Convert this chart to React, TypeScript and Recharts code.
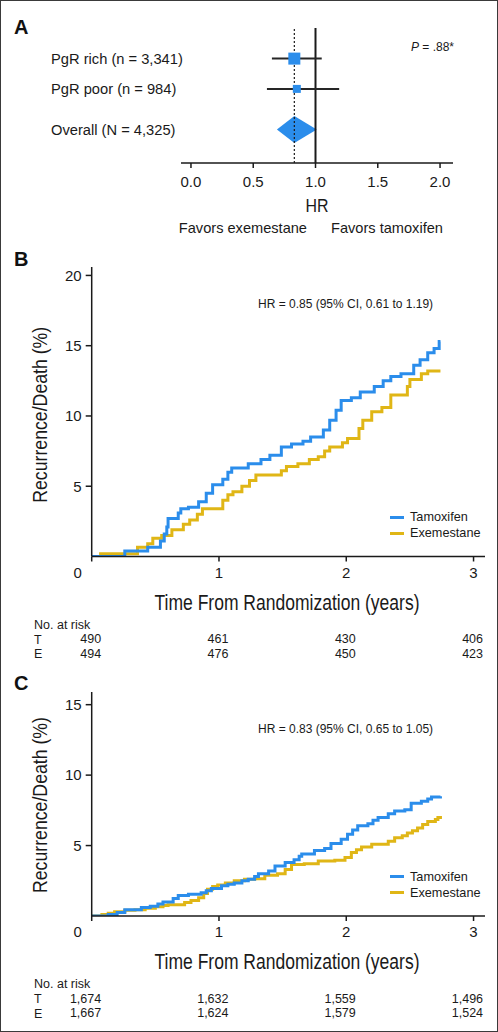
import React from 'react';
import {
  ScatterChart, Scatter, LineChart, Line, XAxis, YAxis, ReferenceLine, ReferenceArea, Legend,
} from 'recharts';

const FONT = '"Liberation Sans", Arial, Helvetica, sans-serif';
const INK = '#1a1a1a';
const BLUE = '#2B8DEB';
const GOLD = '#E0B616';

// panel A - forest plot
const subgroupLabels = ['PgR rich (n = 3,341)', 'PgR poor (n = 984)', 'Overall (N = 4,325)'];
const subgroupN = [3341, 984, 4325];
const hrEstimate = [0.83, 0.85, 0.83];
const ciLower = [0.65, 0.61, 0.69];
const ciUpper = [1.05, 1.19, 1.01];
const hrTicks = [0, 0.5, 1, 1.5, 2];
// row slots on the (hidden) y scale
const rowPos = [3.48, 2.47, 1.12];

// panel B - [years, %]
const bTamoxifen: [number, number][] = [
  [0, 0], [0.26, 0.4], [0.44, 0.65], [0.54, 1.1], [0.57, 1.6], [0.59, 2.1], [0.6, 2.7], [0.68, 3.1],
  [0.7, 3.4], [0.76, 3.5], [0.84, 3.9], [0.9, 4.5], [0.95, 5.1], [1.03, 5.5], [1.07, 6.0], [1.1, 6.3],
  [1.23, 6.6], [1.33, 6.9], [1.4, 7.2], [1.49, 7.8], [1.57, 8.0], [1.66, 8.2], [1.72, 8.5], [1.82, 9.0],
  [1.87, 9.7], [1.92, 10.4], [1.96, 11.1], [2.04, 11.3], [2.11, 11.7], [2.22, 12.1], [2.29, 12.5],
  [2.35, 12.8], [2.43, 13.0], [2.53, 13.6], [2.58, 14.0], [2.64, 14.5], [2.69, 14.8], [2.73, 15.3], [2.74, 15.3],
];
const bExemestane: [number, number][] = [
  [0, 0], [0.07, 0.2], [0.36, 0.65], [0.44, 0.9], [0.48, 1.3], [0.55, 1.5], [0.63, 1.9], [0.72, 2.3],
  [0.77, 2.6], [0.83, 3.0], [0.87, 3.4], [1.03, 4.0], [1.07, 4.4], [1.11, 4.6], [1.18, 5.0], [1.24, 5.4],
  [1.29, 5.8], [1.49, 6.1], [1.53, 6.4], [1.62, 6.6], [1.71, 6.9], [1.78, 7.1], [1.83, 7.5], [1.87, 7.8],
  [1.97, 8.1], [2.01, 8.4], [2.1, 9.1], [2.13, 9.7], [2.2, 10.3], [2.28, 10.6], [2.35, 11.5], [2.48, 12.1],
  [2.5, 12.6], [2.59, 13.0], [2.64, 13.2], [2.74, 13.2],
];
const bRiskT = [490, 461, 430, 406];
const bRiskE = [494, 476, 450, 423];

// panel C
const cTamoxifen: [number, number][] = [
  [0, 0], [0.13, 0.1], [0.2, 0.25], [0.26, 0.45], [0.39, 0.6], [0.46, 0.7], [0.52, 0.85], [0.56, 1.0],
  [0.64, 1.25], [0.68, 1.45], [0.76, 1.55], [0.86, 1.65], [0.9, 1.8], [0.94, 1.95], [1.02, 2.15],
  [1.07, 2.25], [1.12, 2.35], [1.18, 2.5], [1.23, 2.6], [1.28, 2.8], [1.31, 3.0], [1.39, 3.2], [1.44, 3.55],
  [1.52, 3.8], [1.59, 4.0], [1.63, 4.25], [1.65, 4.4], [1.75, 4.65], [1.83, 4.8], [1.88, 5.15], [1.96, 5.45],
  [2.01, 5.8], [2.05, 6.1], [2.09, 6.4], [2.17, 6.55], [2.21, 6.8], [2.25, 7.0], [2.33, 7.25], [2.38, 7.45],
  [2.46, 7.55], [2.51, 8.0], [2.59, 8.15], [2.64, 8.3], [2.67, 8.45], [2.74, 8.5],
];
const cExemestane: [number, number][] = [
  [0, 0], [0.08, 0.1], [0.13, 0.2], [0.18, 0.3], [0.26, 0.4], [0.34, 0.45], [0.42, 0.55], [0.5, 0.65],
  [0.56, 0.75], [0.6, 0.8], [0.73, 0.95], [0.78, 1.1], [0.84, 1.3], [0.88, 1.6], [0.91, 1.9], [0.95, 2.1],
  [0.99, 2.2], [1.05, 2.35], [1.12, 2.5], [1.2, 2.6], [1.28, 2.65], [1.36, 2.9], [1.46, 3.0], [1.52, 3.3],
  [1.57, 3.65], [1.67, 3.7], [1.78, 3.9], [1.91, 3.95], [1.99, 4.15], [2.04, 4.5], [2.08, 4.7], [2.12, 4.9],
  [2.2, 5.1], [2.33, 5.3], [2.38, 5.55], [2.44, 5.7], [2.48, 5.9], [2.52, 6.05], [2.56, 6.25], [2.6, 6.5],
  [2.64, 6.7], [2.7, 6.85], [2.72, 7.0], [2.74, 7.1],
];
const cRiskT = [1674, 1632, 1559, 1496];
const cRiskE = [1667, 1624, 1579, 1524];

const timeTicks = [0, 1, 2, 3];

const fmt = (n: number) => n.toLocaleString('en-US');

const ForestPanel = () => {
  const ov = 2;
  const maxN = Math.max(subgroupN[0], subgroupN[1]);
  const points = [0, 1].map((i) => ({ hr: hrEstimate[i], row: rowPos[i], n: subgroupN[i] }));

  return (
    <div style={{ position: 'absolute', left: 0, top: 0 }}>
      <ScatterChart width={498} height={250} margin={{ top: 27, right: 46, bottom: 8, left: 50 }}>
        <XAxis
          type="number"
          dataKey="hr"
          domain={[-0.08, 2.104]}
          ticks={hrTicks}
          interval={0}
          allowDataOverflow
          tickFormatter={(v: number) => v.toFixed(1)}
          height={80}
          tickSize={5}
          tickMargin={8}
          axisLine={{ stroke: INK, strokeWidth: 1.5 }}
          tickLine={{ stroke: INK, strokeWidth: 1.5 }}
          tick={{ fontSize: 15, fill: INK, fontFamily: FONT }}
          label={(p: any) => {
            const vb = p.viewBox;
            const cx = vb.x + vb.width / 2;
            return (
              <g fontFamily={FONT} fill={INK}>
                <text x={cx} y={vb.y + 49} textAnchor="middle" fontSize={18} textLength={23} lengthAdjust="spacingAndGlyphs">HR</text>
                <text x={cx - 10} y={vb.y + 70} textAnchor="end" fontSize={14.6}>Favors exemestane</text>
                <text x={cx + 14} y={vb.y + 70} textAnchor="start" fontSize={14.6}>Favors tamoxifen</text>
              </g>
            );
          }}
        />
        <YAxis
          type="number"
          dataKey="row"
          domain={[0, 4.5]}
          ticks={rowPos}
          interval={0}
          width={130}
          axisLine={false}
          tickLine={false}
          tick={(p: any) => (
            <text x={50} y={p.y + 5.5} fontSize={14.7} fill={INK} fontFamily={FONT}>
              {subgroupLabels[rowPos.indexOf(p.payload.value)]}
            </text>
          )}
        />
        <ReferenceLine x={1} stroke={INK} strokeWidth={2} />
        <ReferenceLine x={hrEstimate[ov]} stroke={INK} strokeWidth={1.2} strokeDasharray="2 2" />
        {[0, 1].map((i) => (
          <ReferenceLine
            key={i}
            segment={[{ x: ciLower[i], y: rowPos[i] }, { x: ciUpper[i], y: rowPos[i] }]}
            stroke="#262626"
            strokeWidth={2}
          />
        ))}
        <ReferenceArea
          x1={ciLower[ov]}
          x2={ciUpper[ov]}
          y1={rowPos[ov] - 0.45}
          y2={rowPos[ov] + 0.45}
          ifOverflow="visible"
          shape={(p: any) => {
            const mid = p.x + (p.width * (hrEstimate[ov] - ciLower[ov])) / (ciUpper[ov] - ciLower[ov]);
            const pts = [
              [p.x, p.y + p.height / 2],
              [mid, p.y],
              [p.x + p.width, p.y + p.height / 2],
              [mid, p.y + p.height],
            ].map((q) => q.join(',')).join(' ');
            return <polygon points={pts} fill={BLUE} />;
          }}
        />
        <Scatter
          data={points}
          isAnimationActive={false}
          shape={(p: any) => {
            const s = 12 * Math.cbrt(p.payload.n / maxN);
            return <rect x={p.cx - s / 2} y={p.cy - s / 2} width={s} height={s} fill={BLUE} />;
          }}
        />
      </ScatterChart>
    </div>
  );
};

interface KMProps {
  plotTop: number;
  plotBottom: number;
  yMax: number;
  yTicks: number[];
  tam: [number, number][];
  exe: [number, number][];
  riskT: number[];
  riskE: number[];
  hr: string;
  labelShift: number;
}

const renderLegend = (props: any) => {
  const items = [...(props.payload || [])].reverse();
  return (
    <div style={{ fontFamily: FONT }}>
      {items.map((it: any) => (
        <div key={it.value} style={{ display: 'flex', alignItems: 'center', height: 16 }}>
          <span style={{ width: 14, height: 3, background: it.color, marginRight: 6, display: 'inline-block' }} />
          <span style={{ fontSize: 12.7, color: INK, whiteSpace: 'nowrap' }}>{it.value}</span>
        </div>
      ))}
    </div>
  );
};

const KMPanel: React.FC<KMProps> = ({ plotTop, plotBottom, yMax, yTicks, tam, exe, riskT, riskE, hr, labelShift }) => {
  const top = plotTop - 16;
  const height = plotBottom - top + 104.5;
  const tamData = tam.map(([t, v]) => ({ t, v }));
  const exeData = exe.map(([t, v]) => ({ t, v }));

  const renderTick = (p: any) => {
    const v = p.payload.value;
    const i = timeTicks.indexOf(v);
    return (
      <g fontFamily={FONT} fill={INK}>
        <text x={p.x + (v === 0 ? -14 : 0)} y={p.y + 16} textAnchor="middle" fontSize={15}>{v}</text>
        <text x={p.x + 9.5} y={p.y + 81.5} textAnchor="end" fontSize={12.5}>{fmt(riskT[i])}</text>
        <text x={p.x + 9.5} y={p.y + 96} textAnchor="end" fontSize={12.5}>{fmt(riskE[i])}</text>
      </g>
    );
  };

  return (
    <div style={{ position: 'absolute', left: 0, top, width: 498, height }}>
      <LineChart width={498} height={height} margin={{ top: 16, right: 14, bottom: 4.5, left: 30.7 }}>
        <XAxis
          type="number"
          dataKey="t"
          domain={[0, 3.09]}
          ticks={timeTicks}
          interval={0}
          allowDataOverflow
          height={100}
          tickSize={5}
          tickMargin={0}
          axisLine={{ stroke: INK, strokeWidth: 1.5 }}
          tickLine={{ stroke: INK, strokeWidth: 1.5 }}
          tick={renderTick}
          label={(p: any) => {
            const vb = p.viewBox;
            return (
              <g fontFamily={FONT} fill={INK}>
                <text x={286} y={vb.y + 53} textAnchor="middle" fontSize={22} textLength={265} lengthAdjust="spacingAndGlyphs">
                  Time From Randomization (years)
                </text>
                <text x={33} y={vb.y + 72} fontSize={12.5}>No. at risk</text>
                <text x={33} y={vb.y + 87} fontSize={12.5}>T</text>
                <text x={33} y={vb.y + 101.5} fontSize={12.5}>E</text>
              </g>
            );
          }}
        />
        <YAxis
          type="number"
          domain={[0, yMax]}
          ticks={yTicks}
          interval={0}
          allowDataOverflow
          width={60}
          tickSize={6}
          tickMargin={4}
          axisLine={{ stroke: INK, strokeWidth: 1.5 }}
          tickLine={{ stroke: INK, strokeWidth: 1.5 }}
          tick={{ fontSize: 15, fill: INK, fontFamily: FONT }}
          label={(p: any) => {
            const vb = p.viewBox;
            const cy = vb.y + vb.height / 2 + labelShift;
            return (
              <text
                x={38.5}
                y={cy}
                transform={`rotate(-90, 38.5, ${cy})`}
                textAnchor="middle"
                dominantBaseline="central"
                fontSize={21}
                fontFamily={FONT}
                fill={INK}
                textLength={176}
                lengthAdjust="spacingAndGlyphs"
              >
                Recurrence/Death (%)
              </text>
            );
          }}
        />
        <Line data={exeData} dataKey="v" name="Exemestane" type="stepAfter" stroke={GOLD} strokeWidth={3}
          dot={false} activeDot={false} isAnimationActive={false} />
        <Line data={tamData} dataKey="v" name="Tamoxifen" type="stepAfter" stroke={BLUE} strokeWidth={3}
          dot={false} activeDot={false} isAnimationActive={false} />
        <Legend
          layout="vertical"
          align="center"
          verticalAlign="middle"
          content={renderLegend}
          wrapperStyle={{ left: 389, top: plotBottom - top - 47.5, width: 100 }}
        />
      </LineChart>
      <div style={{ position: 'absolute', left: 257, top: 47, fontSize: 12, lineHeight: '12px', whiteSpace: 'nowrap', color: INK, fontFamily: FONT }}>
        {hr}
      </div>
    </div>
  );
};

const letterStyle: React.CSSProperties = {
  position: 'absolute', left: 13, fontSize: 20, fontWeight: 'bold', lineHeight: 1, fontFamily: FONT, color: '#111',
};

export default function App() {
  return (
    <div
      style={{
        position: 'absolute', left: 0, top: 0, width: 498, height: 1032, boxSizing: 'border-box',
        border: '1.5px solid #3a3a3a', background: '#fff', fontFamily: FONT, overflow: 'hidden',
      }}
    >
      <ForestPanel />
      <KMPanel
        plotTop={266}
        plotBottom={555.5}
        yMax={20.6}
        yTicks={[5, 10, 15, 20]}
        tam={bTamoxifen}
        exe={bExemestane}
        riskT={bRiskT}
        riskE={bRiskE}
        hr="HR = 0.85 (95% CI, 0.61 to 1.19)"
        labelShift={3}
      />
      <KMPanel
        plotTop={691}
        plotBottom={915}
        yMax={15.9}
        yTicks={[5, 10, 15]}
        tam={cTamoxifen}
        exe={cExemestane}
        riskT={cRiskT}
        riskE={cRiskE}
        hr="HR = 0.83 (95% CI, 0.65 to 1.05)"
        labelShift={1}
      />
      <div style={{ ...letterStyle, top: 15.5 }}>A</div>
      <div style={{ ...letterStyle, top: 247.5 }}>B</div>
      <div style={{ ...letterStyle, top: 671.5 }}>C</div>
      <div style={{ position: 'absolute', left: 410, top: 40, fontSize: 12, lineHeight: '12px', color: INK, whiteSpace: 'nowrap' }}>
        <i>P</i> = .88*
      </div>
    </div>
  );
}
